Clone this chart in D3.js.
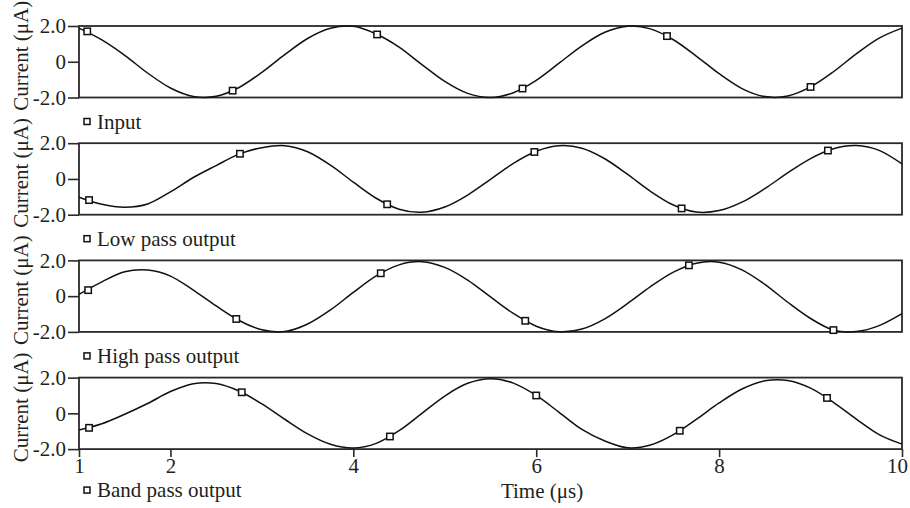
<!DOCTYPE html>
<html>
<head>
<meta charset="utf-8">
<script src="https://cdn.jsdelivr.net/npm/d3@7"></script>
<style>
  html, body { margin: 0; padding: 0; background: #fff; }
  svg { display: block; font-family: "Liberation Serif", "Times New Roman", serif; }
</style>
</head>
<body>
<svg id="chart" width="910" height="508"></svg>
<script>
// Sample times (µs)
const timeUs = [1.00, 1.25, 1.50, 1.75, 2.00, 2.25, 2.50, 2.75, 3.00, 3.25, 3.50, 3.75,
                4.00, 4.25, 4.50, 4.75, 5.00, 5.25, 5.50, 5.75, 6.00, 6.25, 6.50, 6.75,
                7.00, 7.25, 7.50, 7.75, 8.00, 8.25, 8.50, 8.75, 9.00, 9.25, 9.50, 9.75, 10.00];

// Currents (µA) at each sample time
const inputCurrent = [1.88, 1.22, 0.36, -0.63, -1.47, -1.94, -1.93, -1.44, -0.59, 0.40, 1.30, 1.87,
                      1.98, 1.55, 0.82, -0.16, -1.10, -1.77, -2.00, -1.73, -1.04, -0.08, 0.89, 1.65,
                      1.99, 1.84, 1.23, 0.32, -0.67, -1.50, -1.95, -1.92, -1.41, -0.56, 0.44, 1.32, 1.88];
const lowPassCurrent = [-1.02, -1.42, -1.58, -1.40, -0.72, 0.08, 0.75, 1.39, 1.75, 1.86, 1.52, 0.77,
                        -0.18, -1.08, -1.69, -1.86, -1.57, -0.90, -0.02, 0.87, 1.55, 1.86, 1.72, 1.13,
                        0.25, -0.69, -1.46, -1.85, -1.77, -1.30, -0.54, 0.34, 1.14, 1.69, 1.87, 1.60, 0.84];
const highPassCurrent = [0.10, 0.80, 1.36, 1.46, 1.12, 0.34, -0.55, -1.36, -1.88, -1.98, -1.56, -0.77,
                         0.21, 1.13, 1.75, 1.93, 1.61, 0.90, -0.04, -0.97, -1.68, -1.99, -1.84, -1.27,
                         -0.41, 0.53, 1.34, 1.84, 1.90, 1.47, 0.66, -0.34, -1.25, -1.90, -1.98, -1.65, -0.98];
const bandPassCurrent = [-0.93, -0.58, -0.05, 0.55, 1.22, 1.66, 1.67, 1.25, 0.53, -0.33, -1.15, -1.73,
                         -1.94, -1.68, -0.97, 0.00, 0.97, 1.68, 1.94, 1.69, 1.00, 0.06, -0.90, -1.55,
                         -1.93, -1.77, -1.19, -0.34, 0.58, 1.36, 1.82, 1.84, 1.41, 0.62, -0.32, -1.19, -1.72];

// Times (µs) where the square markers sit on each trace
const inputMarkerTimes = [1.09, 2.68, 4.26, 5.85, 7.43, 9.00];
const lowPassMarkerTimes = [1.11, 2.76, 4.37, 5.98, 7.59, 9.19];
const highPassMarkerTimes = [1.10, 2.72, 4.30, 5.88, 7.67, 9.25];
const bandPassMarkerTimes = [1.11, 2.78, 4.40, 6.00, 7.57, 9.18];

const seriesNames = ["Input", "Low pass output", "High pass output", "Band pass output"];
const yTickValues = [-2, 0, 2];
const yTickLabels = ["-2.0", "0", "2.0"];
const xTickValues = [1, 2, 4, 6, 8, 10];
const yTitle = "Current (\u03bcA)";
const xTitle = "Time (\u03bcs)";

const panels = [
  { name: seriesNames[0], values: inputCurrent, markers: inputMarkerTimes },
  { name: seriesNames[1], values: lowPassCurrent, markers: lowPassMarkerTimes },
  { name: seriesNames[2], values: highPassCurrent, markers: highPassMarkerTimes },
  { name: seriesNames[3], values: bandPassCurrent, markers: bandPassMarkerTimes }
];

const svg = d3.select("#chart");
const ink = "#231f20";
const frameColor = "#2a2a2a";
const fontSize = 21;
const left = 79, right = 902;
const firstTop = 26, panelStep = 117.2, panelH = 71.5;

const x = d3.scaleLinear().domain([1, 10]).range([left, right]);

// smooth trace through the samples, used for both the line and the markers
function valueAt(values, t) {
  const i = Math.min(values.length - 2, Math.max(0, d3.bisectRight(timeUs, t) - 1));
  const t0 = timeUs[i], t1 = timeUs[i + 1];
  const f = (t - t0) / (t1 - t0);
  const p0 = values[Math.max(0, i - 1)], p1 = values[i], p2 = values[i + 1];
  const p3 = values[Math.min(values.length - 1, i + 2)];
  const f2 = f * f, f3 = f2 * f;
  return 0.5 * ((2 * p1) + (-p0 + p2) * f + (2 * p0 - 5 * p1 + 4 * p2 - p3) * f2 +
                (-p0 + 3 * p1 - 3 * p2 + p3) * f3);
}

panels.forEach((p, k) => {
  const top = firstTop + k * panelStep;
  const bottom = top + panelH;
  const y = d3.scaleLinear().domain([-2, 2]).range([bottom, top]);
  const g = svg.append("g");

  // y axis ticks and labels
  const ya = g.append("g")
    .attr("transform", `translate(${left},0)`)
    .call(d3.axisLeft(y).tickValues(yTickValues)
      .tickFormat((d, i) => yTickLabels[i]).tickSize(11).tickPadding(2));
  ya.select(".domain").remove();
  ya.selectAll(".tick line").attr("stroke", frameColor).attr("stroke-width", 1.6);
  ya.selectAll(".tick text")
    .attr("fill", ink).style("font-size", fontSize + "px")
    .style("font-family", '"Liberation Serif", "Times New Roman", serif');

  // panel frame
  g.append("rect")
    .attr("x", left).attr("y", top)
    .attr("width", right - left).attr("height", panelH)
    .attr("fill", "none").attr("stroke", frameColor).attr("stroke-width", 1.8);

  // trace
  const line = d3.line()
    .x((d, i) => x(timeUs[i])).y(d => y(d))
    .curve(d3.curveCardinal.tension(0));
  g.append("path")
    .datum(p.values)
    .attr("d", line)
    .attr("fill", "none").attr("stroke", "#111").attr("stroke-width", 1.5)
    .attr("stroke-linejoin", "round");

  // square markers along the trace
  g.selectAll("rect.mk")
    .data(p.markers)
    .join("rect").attr("class", "mk")
    .attr("x", t => x(t) - 3.2).attr("y", t => y(valueAt(p.values, t)) - 3.2)
    .attr("width", 6.4).attr("height", 6.4)
    .attr("fill", "#fff").attr("stroke", "#111").attr("stroke-width", 1.5);

  // rotated axis title
  g.append("text")
    .attr("transform", `translate(28,${top + panelH / 2 - 6}) rotate(-90)`)
    .attr("text-anchor", "middle")
    .attr("fill", ink).style("font-size", fontSize + "px")
    .text(yTitle);

  // legend entry
  const last = k === panels.length - 1;
  const base = bottom + (last ? 48 : 31);
  g.append("rect")
    .attr("x", 84).attr("y", base - 10)
    .attr("width", 6).attr("height", 6)
    .attr("fill", "#fff").attr("stroke", "#111").attr("stroke-width", 1.5);
  g.append("text")
    .attr("x", 97).attr("y", base)
    .attr("fill", ink).style("font-size", fontSize + "px")
    .text(p.name);

  // time axis under the last panel
  if (last) {
    const xa = g.append("g")
      .attr("transform", `translate(0,${bottom})`)
      .call(d3.axisBottom(x).tickValues(xTickValues).tickFormat(d3.format("d"))
        .tickSize(8).tickPadding(1));
    xa.select(".domain").remove();
    xa.selectAll(".tick line").attr("stroke", frameColor).attr("stroke-width", 1.6);
    xa.selectAll(".tick text")
      .attr("fill", ink).style("font-size", fontSize + "px")
      .style("font-family", '"Liberation Serif", "Times New Roman", serif')
      .attr("dx", d => d === xTickValues[xTickValues.length - 1] ? -5 : 0);
  }
});

// time axis title
svg.append("text")
  .attr("x", 542).attr("y", 498)
  .attr("text-anchor", "middle")
  .attr("fill", ink).style("font-size", fontSize + "px")
  .text(xTitle);
</script>
</body>
</html>
